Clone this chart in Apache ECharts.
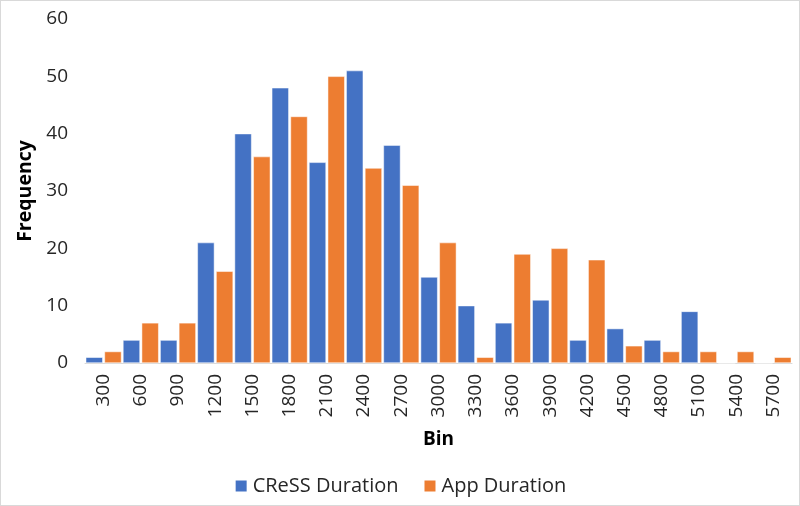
<!DOCTYPE html>
<html><head><meta charset="utf-8">
<script src="https://cdn.jsdelivr.net/npm/echarts@6/dist/echarts.min.js"></script>
<style>html,body{margin:0;padding:0;background:#fff}#c{width:798px;height:504px;border:1px solid #d9d9d9}</style>
</head><body><div id="c"></div>
<script>
const categories = ['300','600','900','1200','1500','1800','2100','2400','2700','3000','3300','3600','3900','4200','4500','4800','5100','5400','5700'];
const cressDuration = [1,4,4,21,40,48,35,51,38,15,10,7,11,4,6,4,9,0,0];
const appDuration = [2,7,7,16,36,43,50,34,31,21,1,19,20,18,3,2,2,2,1];
const yTicks = {min:0, max:60, interval:10};
const font = '"Open Sans", "Noto Sans", sans-serif';
const chart = echarts.init(document.getElementById('c'));
chart.setOption({
  animation:false,
  textStyle:{fontFamily:font},
  grid:{left:84, right:7, top:18, bottom:142, containLabel:false},
  legend:{bottom:4, left:'center', itemWidth:13, itemHeight:13, itemGap:24, icon:'rect',
    textStyle:{fontSize:20, color:'#262626', fontFamily:font}},
  xAxis:{type:'category', data:categories, name:'Bin', nameLocation:'middle', nameGap:67,
    nameTextStyle:{fontSize:19, fontWeight:'bold', color:'#000', fontFamily:font},
    axisLine:{lineStyle:{color:'#d9d9d9'}}, axisTick:{show:false},
    axisLabel:{rotate:90, fontSize:19, color:'#262626', margin:11, fontFamily:font}},
  yAxis:{type:'value', min:yTicks.min, max:yTicks.max, interval:yTicks.interval, name:'Frequency',
    nameLocation:'middle', nameGap:44,
    nameTextStyle:{fontSize:19.5, fontWeight:'bold', color:'#000', fontFamily:font},
    splitLine:{show:false}, axisLine:{show:false}, axisTick:{show:false},
    axisLabel:{fontSize:19, color:'#262626', margin:17, fontFamily:font}},
  series:[
    {name:'CReSS Duration', type:'bar', data:cressDuration, barGap:'10%', barCategoryGap:'4%',
     itemStyle:{color:'#4472C4', borderColor:'#fff', borderWidth:0.5}},
    {name:'App Duration', type:'bar', data:appDuration,
     itemStyle:{color:'#ED7D31', borderColor:'#fff', borderWidth:0.5}}
  ]
});
</script></body></html>
